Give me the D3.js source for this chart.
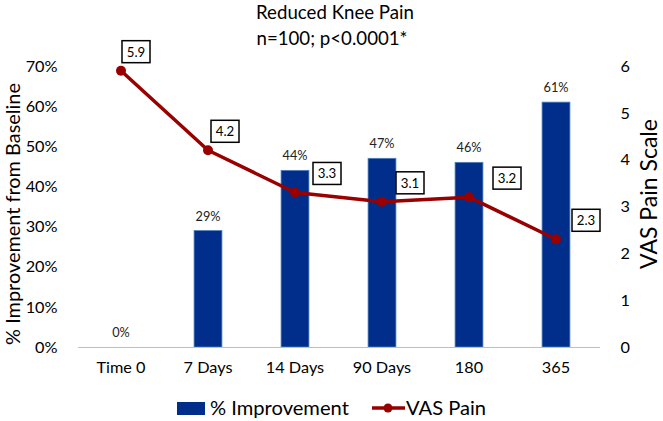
<!DOCTYPE html>
<html><head><meta charset="utf-8">
<script src="https://cdn.jsdelivr.net/npm/d3@7/dist/d3.min.js"></script>
<style>body{margin:0;background:#fff}svg{display:block;font-family:Lato,"Open Sans",sans-serif}</style>
</head><body><svg id="c" width="663" height="421"></svg>
<script>
const categories = ["Time 0","7 Days","14 Days","90 Days","180","365"];
const improvement = [0,29,44,47,46,61];
const vasPain = [5.9,4.2,3.3,3.1,3.2,2.3];
const leftTicks = [0,10,20,30,40,50,60,70];
const rightTicks = [0,1,2,3,4,5,6];
// label box offsets (layout, not data)
const boxDx = [1,3,18,14,24,16];

const FONT = "Lato,'Open Sans',sans-serif";
const svg = d3.select("#c");
// size a text so that its rendered width matches the reference width
function fitSize(str, target){
  const t = svg.append("text").attr("font-size",20).attr("font-family",FONT).text(str);
  const w = t.node().getComputedTextLength(); t.remove();
  return 20*target/w;
}
const titleSize = fitSize("Reduced Knee Pain",158);
const leftTitleSize = fitSize("% Improvement from Baseline",262);
const rightTitleSize = fitSize("VAS Pain Scale",150);
const tickSize = fitSize("Time 0",49);
const legendSize = fitSize("% Improvement",139);
const barLabSize = fitSize("29%",25);
const boxLabSize = fitSize("4.2",18.5);

const m = {l:77.5, r:599.5, t:66, b:347};
const x = d3.scaleBand().domain(categories).range([m.l,m.r]).paddingInner(0.68).paddingOuter(0.34);
const xc = d => x(d)+x.bandwidth()/2;
const yL = d3.scaleLinear().domain([0,70]).range([m.b,m.t]);
const yR = d3.scaleLinear().domain([0,6]).range([m.b,m.t]);

// titles
svg.append("text").attr("x",335).attr("y",19).attr("text-anchor","middle").attr("font-size",titleSize).attr("fill","#000").text("Reduced Knee Pain");
svg.append("text").attr("x",332).attr("y",45).attr("text-anchor","middle").attr("font-size",titleSize).attr("fill","#000").text("n=100; p<0.0001*");

// bars
svg.selectAll("rect.bar").data(improvement).join("rect").attr("class","bar")
  .attr("x",(d,i)=>x(categories[i])).attr("width",x.bandwidth())
  .attr("y",d=>yL(d)).attr("height",d=>m.b-yL(d))
  .attr("fill","#002E8A").attr("stroke","#4F81BD").attr("stroke-width",d=>d>0?0.8:0);
svg.selectAll("text.bl").data(improvement).join("text").attr("class","bl")
  .attr("x",(d,i)=>xc(categories[i])).attr("y",d=>yL(d)-10)
  .attr("text-anchor","middle").attr("font-size",barLabSize).attr("fill","#222").text(d=>d+"%");

// x axis
const xa = svg.append("g").attr("transform",`translate(0,${m.b})`).call(d3.axisBottom(x).tickSize(0).tickPadding(14));
xa.select(".domain").attr("stroke","#BFBFBF").attr("stroke-width",1.2);
xa.selectAll("text").attr("font-size",tickSize).attr("fill","#000").attr("font-family",FONT);

// left axis
const la = svg.append("g").attr("transform",`translate(${m.l-17},0)`).call(d3.axisLeft(yL).tickValues(leftTicks).tickFormat(d=>d+"%").tickSize(0));
la.select(".domain").remove();
la.selectAll("text").attr("font-size",tickSize).attr("fill","#000").attr("font-family",FONT);
// right axis
const ra = svg.append("g").attr("transform",`translate(${m.r+18},0)`).call(d3.axisRight(yR).tickValues(rightTicks).tickFormat(d3.format("d")).tickSize(0));
ra.select(".domain").remove();
ra.selectAll("text").attr("font-size",tickSize).attr("fill","#000").attr("font-family",FONT);

svg.append("text").attr("transform",`translate(20,214) rotate(-90)`).attr("text-anchor","middle").attr("font-size",leftTitleSize).attr("fill","#000").text("% Improvement from Baseline");
svg.append("text").attr("transform",`translate(657,194) rotate(-90)`).attr("text-anchor","middle").attr("font-size",rightTitleSize).attr("fill","#000").text("VAS Pain Scale");

// line
const line = d3.line().x((d,i)=>xc(categories[i])).y(d=>yR(d));
svg.append("path").datum(vasPain).attr("d",line).attr("fill","none").attr("stroke","#990000").attr("stroke-width",3.5).attr("stroke-linejoin","round");
svg.selectAll("circle.pt").data(vasPain).join("circle").attr("class","pt")
  .attr("cx",(d,i)=>xc(categories[i])).attr("cy",d=>yR(d)).attr("r",5).attr("fill","#990000");

// boxes
const bg = svg.selectAll("g.lb").data(vasPain).join("g").attr("class","lb")
  .attr("transform",(d,i)=>`translate(${xc(categories[i])+boxDx[i]},${yR(d)-8})`);
bg.append("rect").attr("x",0).attr("y",-22).attr("width",28).attr("height",22).attr("fill","#fff").attr("stroke","#000").attr("stroke-width",1.5);
bg.append("text").attr("x",14).attr("y",-6).attr("text-anchor","middle").attr("font-size",boxLabSize).attr("fill","#000").text(d=>d3.format(".1f")(d));

// legend
const lg = svg.append("g");
lg.append("rect").attr("x",177).attr("y",402).attr("width",28).attr("height",13).attr("fill","#002E8A");
lg.append("text").attr("x",210).attr("y",415).attr("font-size",legendSize).attr("fill","#000").text("% Improvement");
lg.append("line").attr("x1",372).attr("x2",405).attr("y1",408).attr("y2",408).attr("stroke","#990000").attr("stroke-width",3.5);
lg.append("circle").attr("cx",388).attr("cy",408).attr("r",4.5).attr("fill","#990000");
lg.append("text").attr("x",406).attr("y",415).attr("font-size",legendSize).attr("fill","#000").text("VAS Pain");
</script></body></html>
